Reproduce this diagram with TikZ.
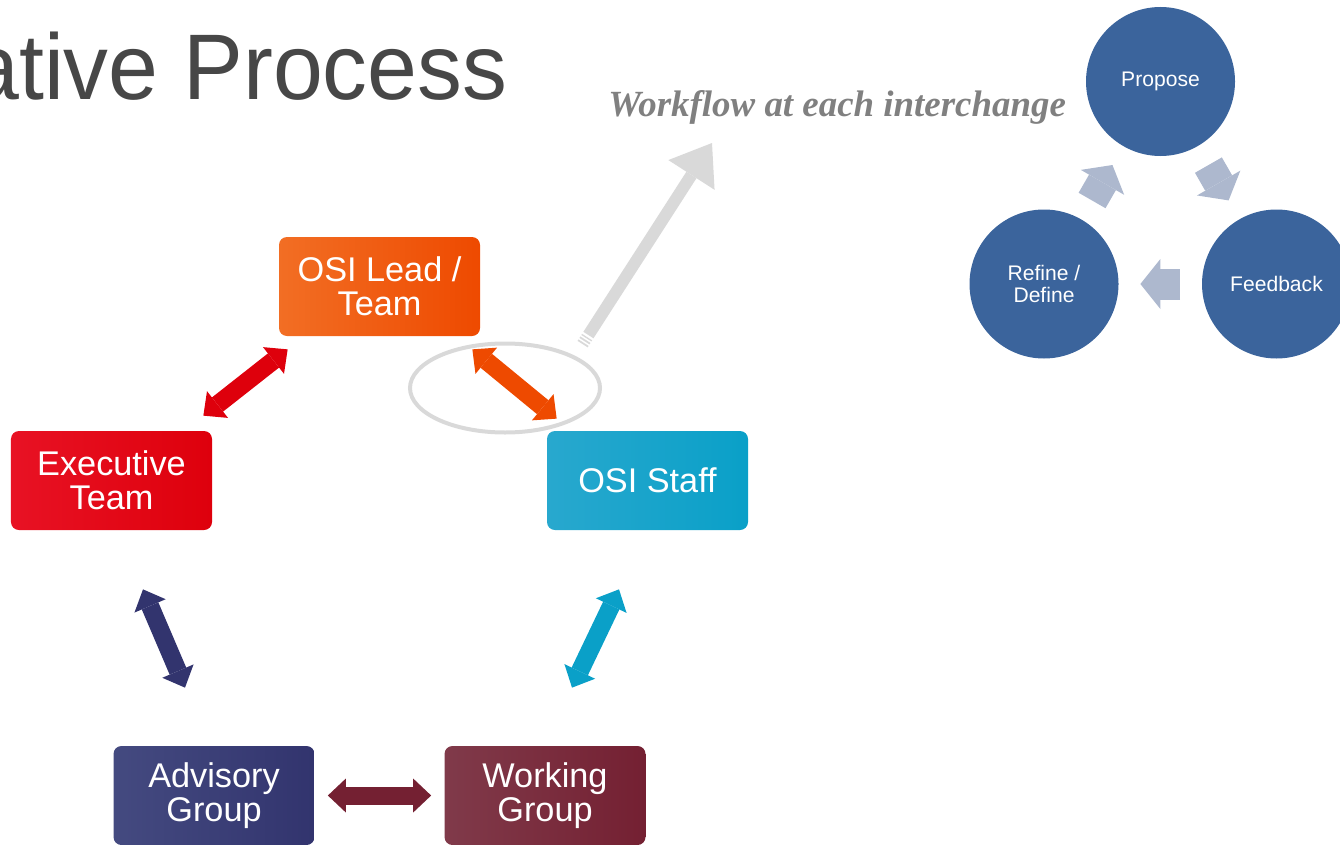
\documentclass[tikz,border=0pt]{standalone}
\usepackage{fontspec}
\setmainfont{Liberation Sans}
\newfontfamily\wffont{Liberation Serif}
\usetikzlibrary{arrows.meta,shapes.geometric,calc}

\definecolor{leadL}{RGB}{242,110,36}
\definecolor{leadR}{RGB}{238,74,0}
\definecolor{execL}{RGB}{232,18,36}
\definecolor{execR}{RGB}{222,0,12}
\definecolor{staffL}{RGB}{40,168,206}
\definecolor{staffR}{RGB}{10,160,200}
\definecolor{advL}{RGB}{68,74,128}
\definecolor{advR}{RGB}{50,52,110}
\definecolor{workL}{RGB}{128,58,74}
\definecolor{workR}{RGB}{116,32,50}
\definecolor{cycleblue}{RGB}{59,100,156}
\definecolor{cyclegray}{RGB}{173,184,206}
\definecolor{hilite}{RGB}{217,217,217}
\definecolor{titlegray}{RGB}{71,71,71}
\definecolor{wfgray}{RGB}{128,128,128}

\tikzset{
  team/.style 2 args={rectangle, rounded corners=1.6mm, left color=#1, right color=#2,
    minimum width=40.2mm, minimum height=19.8mm, text=white, align=center,
    font=\fontsize{19.5}{19.5}\selectfont},
  link/.style={line width=3.6mm,
    {Triangle[length=3.6mm,width=6.8mm,line width=0pt]}-{Triangle[length=3.6mm,width=6.8mm,line width=0pt]}},
  phase/.style={circle, fill=cycleblue, minimum size=29.8mm, inner sep=0pt, text=white,
    align=center, font=\fontsize{12}{12.5}\selectfont},
  turn/.style={line width=6.2mm, cyclegray, -{Triangle[length=4mm,width=10mm,line width=0pt]},
    shorten <=4.3mm, shorten >=4.3mm},
  pointer/.style={line width=2.4mm, hilite, -{Triangle[length=7.6mm,width=11mm,line width=0pt]}}
}

\begin{document}
\begin{tikzpicture}[x=0.2mm, y=-0.2mm]
    \useasboundingbox (0,0) rectangle (1340,844);

    % title and label
    \node[anchor=base west, inner sep=0pt, text=titlegray, font=\fontsize{51}{51}\selectfont]
      (title) at (-31,99) {\scalebox{1}[1.04]{ative Process}};
    \node[anchor=base west, inner sep=0pt, text=wfgray, font=\wffont\bfseries\itshape\fontsize{21}{21}\selectfont]
      (workflow) at (608,117) {Workflow at each interchange};

    % teams
    \node[ellipse, draw=hilite, line width=0.8mm, minimum width=38mm, minimum height=17.8mm] (focus) at (505,388) {};
    \node[team={leadL}{leadR}] (lead) at (379.5,286.5) {OSI Lead /\\Team};
    \node[team={execL}{execR}] (exec) at (111.5,480.5) {Executive\\Team};
    \node[team={staffL}{staffR}] (staff) at (647.5,480.5) {OSI Staff};
    \node[team={advL}{advR}] (adv) at (214,795.5) {Advisory\\Group};
    \node[team={workL}{workR}] (work) at (545,795.5) {Working\\Group};

    \draw[link, execR] ([shift={(-9,-15)}]exec.north east) -- ([shift={(9,13)}]lead.south west);
    \draw[link, leadR] ([shift={(-8,13)}]lead.south east) -- ([shift={(10,-12)}]staff.north west);
    \draw[link, advR] ([shift={(31.5,59)}]exec.south) -- ([shift={(-29,-58)}]adv.north);
    \draw[link, staffR] ([shift={(-28.5,59)}]staff.south) -- ([shift={(27,-58)}]work.north);
    \draw[link, workR] ([shift={(13,0)}]adv.east) -- ([shift={(-13,0)}]work.west);

    % pointer to the cycle
    \coordinate (wftail) at ([shift={(9,-11)}]focus.north east);
    \coordinate (wfhead) at (712,143);
    \draw[line width=2.4mm, hilite, dash pattern=on 0.35mm off 0.35mm] (wftail) -- ($(wftail)!0.035!(wfhead)$);
    \draw[pointer] ($(wftail)!0.045!(wfhead)$) -- (wfhead);

    % cycle
    \node[phase] (propose) at (1160.5,81.5) {Propose};
    \node[phase] (feedback) at (1276.5,284) {Feedback};
    \node[phase] (refine) at (1044,284) {Refine /\\Define};
    \draw[turn] (propose) -- (feedback);
    \draw[turn] (feedback) -- (refine);
    \draw[turn] (refine) -- (propose);
\end{tikzpicture}
\end{document}
